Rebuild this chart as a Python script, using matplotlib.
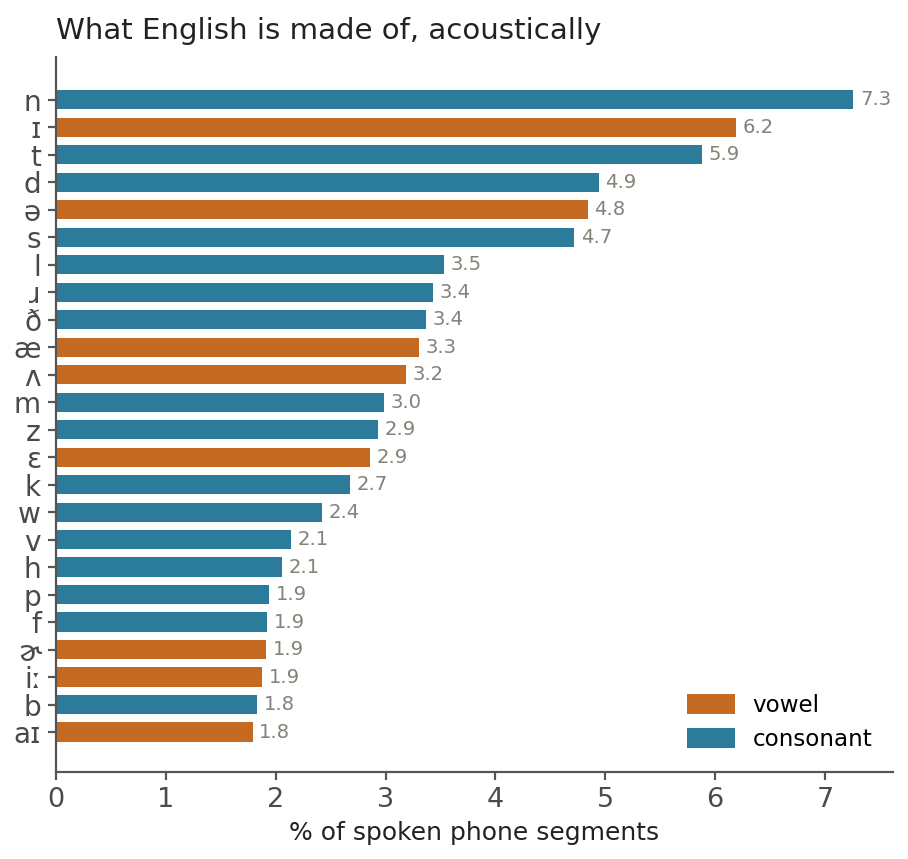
import matplotlib.pyplot as plt
from matplotlib.patches import Patch

phones = ["n", "ɪ", "t", "d", "ə", "s", "l", "ɹ", "ð", "æ", "ʌ", "m",
          "z", "ɛ", "k", "w", "v", "h", "p", "f", "ɚ", "iː", "b", "aɪ"]
shares = [7.26, 6.19, 5.88, 4.94, 4.84, 4.72, 3.53, 3.43, 3.37, 3.30, 3.19, 2.99,
          2.93, 2.86, 2.68, 2.42, 2.14, 2.06, 1.94, 1.92, 1.91, 1.875, 1.83, 1.79]
kinds = ["c", "v", "c", "c", "v", "c", "c", "c", "c", "v", "v", "c",
         "c", "v", "c", "c", "c", "c", "c", "c", "v", "v", "c", "v"]

vowel_col = "#C46A22"
cons_col = "#2B7B9B"
axis_col = "#555555"

fig = plt.figure(figsize=(908 / 144, 859 / 144), dpi=144)
ax = fig.add_axes([0.0617, 0.1013, 0.9218, 0.8323])

colors = [vowel_col if k == "v" else cons_col for k in kinds]
pos = list(range(len(phones)))
ax.barh(pos, shares, height=0.7, color=colors)

for y, v in zip(pos, shares):
    ax.text(v + 0.06, y, f"{v:.1f}", va="center", ha="left", fontsize=9.8, color="#878178")

ax.set_yticks(pos)
ax.set_yticklabels(phones)
ax.set_ylim(24.45, -1.55)
ax.set_xlim(0, 7.62)
ax.set_xticks(range(8))

for side in ["top", "right"]:
    ax.spines[side].set_visible(False)
for side in ["left", "bottom"]:
    ax.spines[side].set_color(axis_col)
    ax.spines[side].set_linewidth(1.1)
ax.tick_params(colors=axis_col, labelcolor="#4a4a4a", labelsize=13.5, length=4, width=1.1)
ax.tick_params(axis="y", labelsize=14)

ax.set_xlabel("% of spoken phone segments", fontsize=12.5, color="#222222", labelpad=4)
ax.set_title("What English is made of, acoustically", loc="left", fontsize=14.6,
             color="#222222", pad=9)

handles = [Patch(color=vowel_col, label="vowel"), Patch(color=cons_col, label="consonant")]
ax.legend(handles=handles, loc="lower right", frameon=False, fontsize=11.5,
          handlelength=2.0, handleheight=0.8, bbox_to_anchor=(1.0, 0.0))

fig.savefig("out.png", dpi=144)
